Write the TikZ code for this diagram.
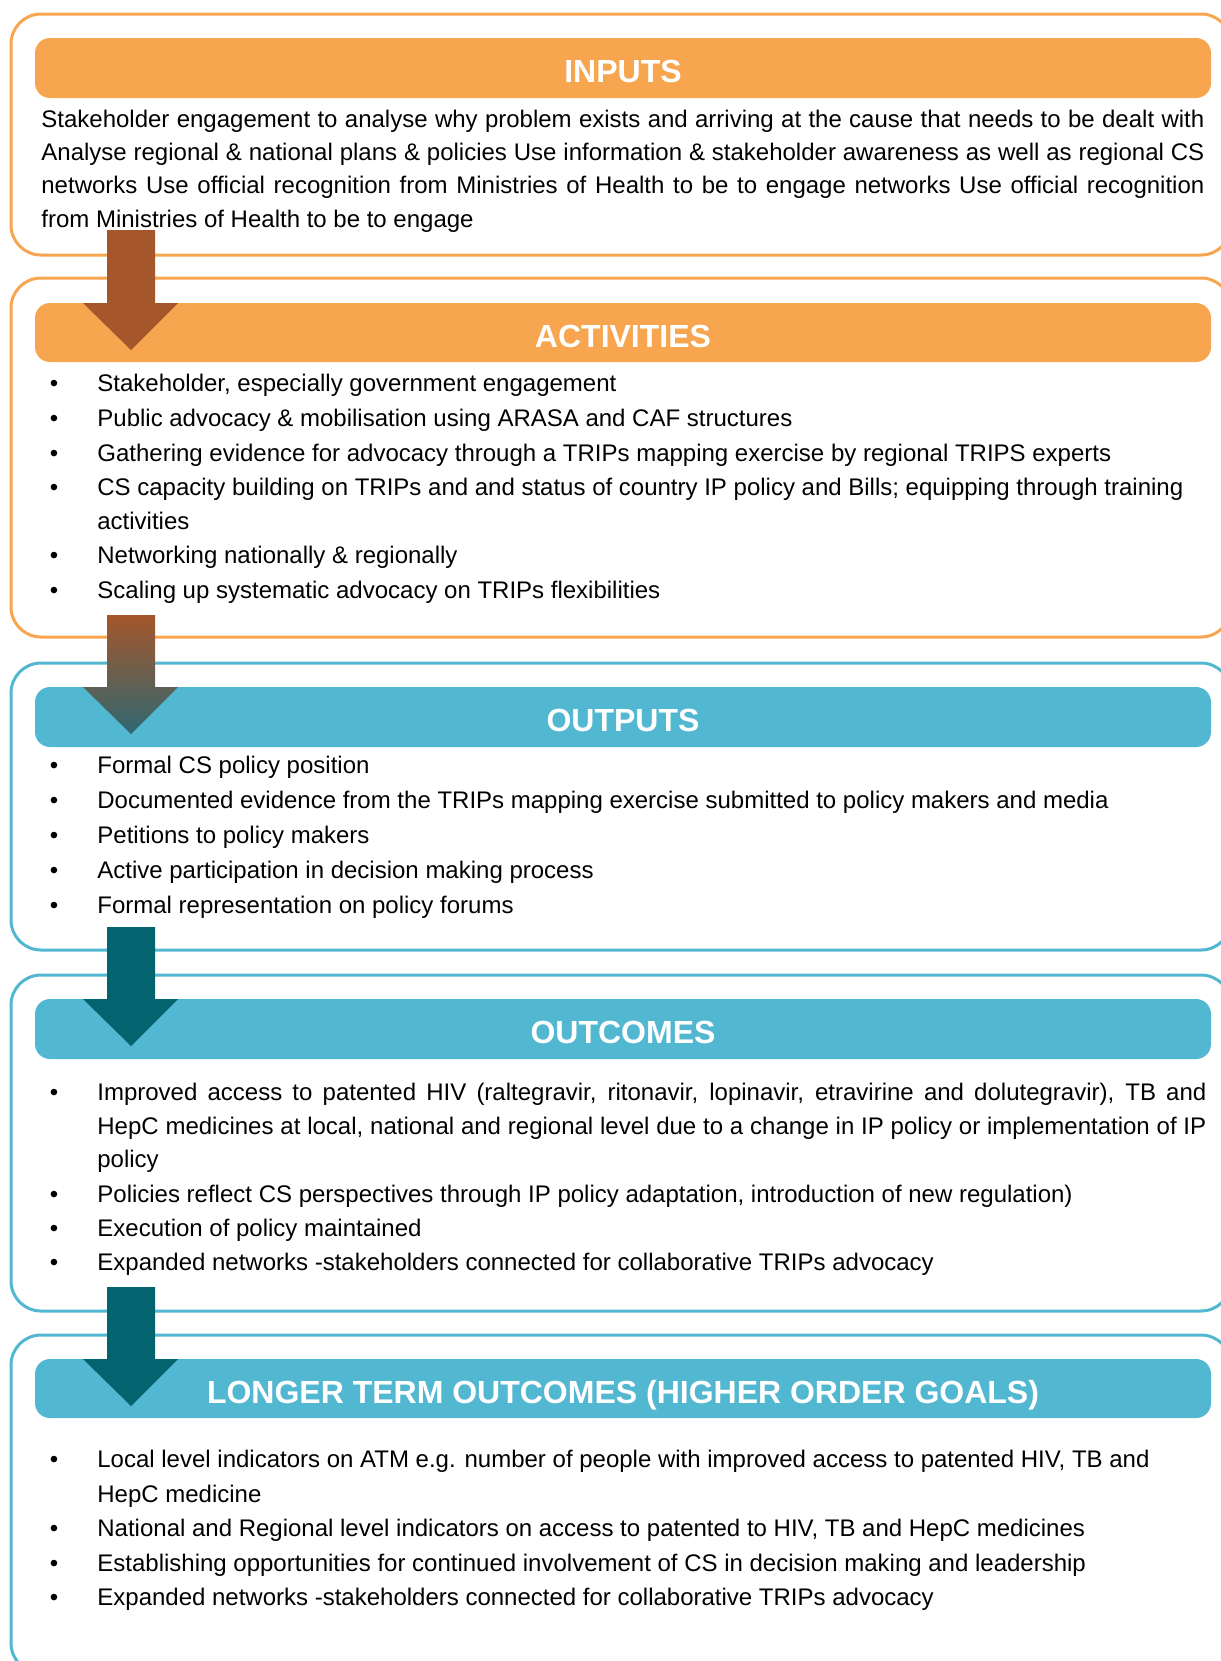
\documentclass[tikz,border=0pt]{standalone}
\usepackage{fontspec}
\setmainfont{Liberation Sans}
\definecolor{orng}{HTML}{F8A54F}
\definecolor{blu}{HTML}{52B7D0}
\definecolor{brn}{HTML}{A5562A}
\definecolor{tl}{HTML}{03646F}
\definecolor{gradend}{HTML}{2F6872}
\begin{document}
\begin{tikzpicture}[x=0.5pt,y=-0.5pt,
  outerbox/.style={line width=1.5pt, rounded corners=15pt},
  hdr/.style={rounded corners=7.5pt},
  hdrtxt/.style={text=white, font=\fontsize{16}{19}\selectfont\bfseries, anchor=base, inner sep=0pt},
  txt/.style={font=\fontsize{12}{14}\selectfont, anchor=base west, inner sep=0pt},
  bul/.style={font=\fontsize{12}{14}\selectfont, anchor=base, inner sep=0pt}]
\useasboundingbox (0,0) rectangle (1221,1661);
\clip (0,0) rectangle (1221,1661);

% outer boxes
\draw[outerbox, draw=orng] (11,14) rectangle (1231,255);
\draw[outerbox, draw=orng] (11,278) rectangle (1231,637);
\draw[outerbox, draw=blu] (11,663) rectangle (1231,950);
\draw[outerbox, draw=blu] (11,975) rectangle (1231,1311);
\draw[outerbox, draw=blu] (11,1335) rectangle (1231,1673);

% headers
\fill[hdr, orng] (35,38) rectangle (1211,98);
\fill[hdr, orng] (35,303) rectangle (1211,362);
\fill[hdr, blu] (35,687) rectangle (1211,747);
\fill[hdr, blu] (35,999) rectangle (1211,1059);
\fill[hdr, blu] (35,1359) rectangle (1211,1418);

% block arrows
\fill[brn] (107,230) -- (155,230) -- (155,303) -- (178,303) -- (131,350) -- (83,303) -- (107,303) -- cycle;
\shade[top color=brn, bottom color=gradend] (107,615) -- (155,615) -- (155,687) -- (178,687) -- (131,734) -- (83,687) -- (107,687) -- cycle;
\fill[tl] (107,927) -- (155,927) -- (155,999) -- (178,999) -- (131,1046) -- (83,999) -- (107,999) -- cycle;
\fill[tl] (107,1287) -- (155,1287) -- (155,1359) -- (178,1359) -- (131,1406) -- (83,1359) -- (107,1359) -- cycle;

% header texts
\node[hdrtxt] (hin) at (623,82) {INPUTS};
\node[hdrtxt] (hact) at (623,347) {ACTIVITIES};
\node[hdrtxt] (hout) at (623,731) {OUTPUTS};
\node[hdrtxt] (hoc) at (623,1043) {OUTCOMES};
\node[hdrtxt] (hlt) at (623,1403) {LONGER TERM OUTCOMES (HIGHER ORDER GOALS)};

% inputs
\node[txt] (in1) at (41,127) {\makebox[581.5pt][s]{Stakeholder engagement to analyse why problem exists and arriving at the cause that needs to be dealt with}};
\node[txt] (in2) at (41,160.5) {\makebox[581.5pt][s]{Analyse regional \& national plans \& policies Use information \& stakeholder awareness as well as regional CS}};
\node[txt] (in3) at (41,193.5) {\makebox[581.5pt][s]{networks Use official recognition from Ministries of Health to be to engage networks Use official recognition}};
\node[txt] (in4) at (41,227) {from Ministries of Health to be to engage};

% activities
\node[bul] (ab1) at (54,391.5) {\textbullet};
\node[txt] (a1) at (97,391.5) {Stakeholder, especially government engagement};
\node[bul] (ab2) at (54,426.5) {\textbullet};
\node[txt] (a2) at (97,426.5) {Public advocacy \& mobilisation using ARASA and CAF structures};
\node[bul] (ab3) at (54,461) {\textbullet};
\node[txt] (a3) at (97,461) {Gathering evidence for advocacy through a TRIPs mapping exercise by regional TRIPS experts};
\node[bul] (ab4) at (54,495.5) {\textbullet};
\node[txt] (a4) at (97,495.5) {CS capacity building on TRIPs and and status of country IP policy and Bills; equipping through training};
\node[txt] (a4b) at (97,529.5) {activities};
\node[bul] (ab5) at (54,563.5) {\textbullet};
\node[txt] (a5) at (97,563.5) {Networking nationally \& regionally};
\node[bul] (ab6) at (54,598) {\textbullet};
\node[txt] (a6) at (97,598) {Scaling up systematic advocacy on TRIPs flexibilities};

% outputs
\node[bul] (ob1) at (54,773) {\textbullet};
\node[txt] (o1) at (97,773) {Formal CS policy position};
\node[bul] (ob2) at (54,808.5) {\textbullet};
\node[txt] (o2) at (97,808.5) {Documented evidence from the TRIPs mapping exercise submitted to policy makers and media};
\node[bul] (ob3) at (54,843.5) {\textbullet};
\node[txt] (o3) at (97,843.5) {Petitions to policy makers};
\node[bul] (ob4) at (54,878.5) {\textbullet};
\node[txt] (o4) at (97,878.5) {Active participation in decision making process};
\node[bul] (ob5) at (54,913) {\textbullet};
\node[txt] (o5) at (97,913) {Formal representation on policy forums};

% outcomes
\node[bul] (cb1) at (54,1100.5) {\textbullet};
\node[txt] (c1) at (97,1100.5) {\makebox[554.5pt][s]{Improved access to patented HIV (raltegravir, ritonavir, lopinavir, etravirine and dolutegravir), TB and}};
\node[txt] (c1b) at (97,1134) {\makebox[554.5pt][s]{HepC medicines at local, national and regional level due to a change in IP policy or implementation of IP}};
\node[txt] (c1c) at (97,1167.5) {policy};
\node[bul] (cb2) at (54,1202) {\textbullet};
\node[txt] (c2) at (97,1202) {Policies reflect CS perspectives through IP policy adaptation, introduction of new regulation)};
\node[bul] (cb3) at (54,1236) {\textbullet};
\node[txt] (c3) at (97,1236) {Execution of policy maintained};
\node[bul] (cb4) at (54,1270) {\textbullet};
\node[txt] (c4) at (97,1270) {Expanded networks -stakeholders connected for collaborative TRIPs advocacy};

% longer term
\node[bul] (lb1) at (54,1467.5) {\textbullet};
\node[txt] (l1) at (97,1467.5) {Local level indicators on ATM e.g. number of people with improved access to patented HIV, TB and};
\node[txt] (l1b) at (97,1502) {HepC medicine};
\node[bul] (lb2) at (54,1536.5) {\textbullet};
\node[txt] (l2) at (97,1536.5) {National and Regional level indicators on access to patented to HIV, TB and HepC medicines};
\node[bul] (lb3) at (54,1571) {\textbullet};
\node[txt] (l3) at (97,1571) {Establishing opportunities for continued involvement of CS in decision making and leadership};
\node[bul] (lb4) at (54,1605.5) {\textbullet};
\node[txt] (l4) at (97,1605.5) {Expanded networks -stakeholders connected for collaborative TRIPs advocacy};
\end{tikzpicture}
\end{document}
